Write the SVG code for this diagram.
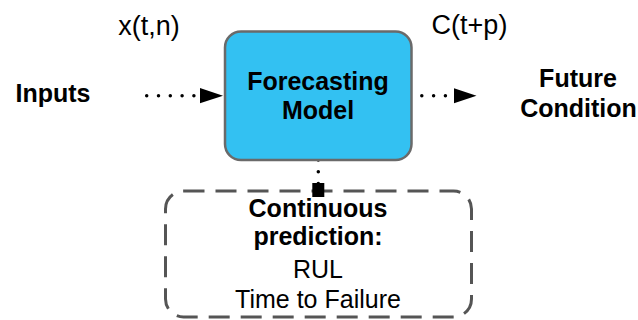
<svg xmlns="http://www.w3.org/2000/svg" width="638" height="320" viewBox="0 0 638 320">
<defs>
<style>
text{font-family:"Liberation Sans",Arial,sans-serif;fill:#000;text-anchor:middle}
.b{font-weight:bold;font-size:25px}
.r{font-size:25px}
.lab{font-size:27px}
.dot{stroke:#000;stroke-width:3.5;stroke-linecap:round;stroke-dasharray:0 11.8;fill:none}
</style>
<marker id="ah" markerUnits="userSpaceOnUse" markerWidth="24" markerHeight="16" refX="0" refY="7.6" orient="auto">
<path d="M0,0 L23,7.6 L0,15.2 Z" fill="#000"/>
</marker>
</defs>
<rect width="638" height="320" fill="#fff"/>
<g id="connectors">
<line class="dot" x1="146.7" y1="95.7" x2="200" y2="95.7" marker-end="url(#ah)"/>
<line class="dot" x1="410" y1="95.7" x2="453.5" y2="95.7" marker-end="url(#ah)"/>
<line class="dot" x1="318.3" y1="160" x2="318.3" y2="184"/>
</g>
<g id="model">
<rect x="225" y="31.5" width="186.5" height="128.5" rx="16" fill="#33C1F2" stroke="#6a6a6a" stroke-width="2.5"/>
<text class="b" x="318" y="90">Forecasting</text>
<text class="b" x="318" y="118.5">Model</text>
</g>
<g id="prediction">
<rect x="165.5" y="191" width="306" height="126" rx="18" fill="none" stroke="#555" stroke-width="3" stroke-dasharray="21 11"/>
<rect x="312.3" y="183" width="12" height="14" fill="#000"/>
<text class="b" x="318" y="217">Continuous</text>
<text class="b" x="318" y="245">prediction:</text>
<text class="r" x="318" y="278">RUL</text>
<text class="r" x="318" y="308">Time to Failure</text>
</g>
<g id="inputs">
<text class="b" x="53" y="102">Inputs</text>
</g>
<g id="future">
<text class="b" x="578" y="87">Future</text>
<text class="b" x="578.5" y="117">Condition</text>
</g>
<g id="labels">
<text class="lab" x="149" y="35">x(t,n)</text>
<text class="lab" x="469.5" y="34">C(t+p)</text>
</g>
</svg>
